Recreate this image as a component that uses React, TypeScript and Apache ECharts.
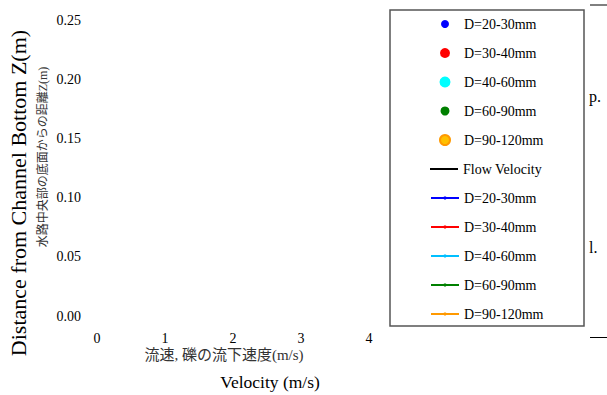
import React, { useEffect, useRef } from "react";
import * as echarts from "echarts";

const particleNames = ["D=20-30mm", "D=30-40mm", "D=40-60mm", "D=60-90mm", "D=90-120mm"];
const particleColors = ["#0000ff", "#ff0000", "#00ffff", "#008000", "#ffc000"];
const particleBorders = ["#0000ff", "#ff0000", "#00ffff", "#008000", "#ff9900"];
const particleSizes = [6, 8, 9, 7, 10];
const lineColors = ["#0000ff", "#ff0000", "#00bfff", "#008000", "#ff9900"];
const xTicks = [0, 1, 2, 3, 4];
const yTicks = [0, 0.05, 0.1, 0.15, 0.2, 0.25];
// The reference plot area is empty: no marks are drawn
const particleData: number[][][] = [[], [], [], [], []];
const flowVelocity: number[][] = [];
const profileData: number[][][] = [[], [], [], [], []];

const FONT = "'Liberation Serif', 'Times New Roman', serif";
const JFONT = "'Liberation Serif', 'Noto Sans CJK JP', serif";

export default function App() {
  const ref = useRef<HTMLDivElement>(null);
  useEffect(() => {
    if (!ref.current) return;
    const chart = echarts.init(ref.current, null, { renderer: "svg" });
    const series: any[] = [];
    particleNames.forEach((n, i) => {
      series.push({
        type: "scatter",
        name: n,
        data: particleData[i],
        symbol: "circle",
        symbolSize: particleSizes[i],
        itemStyle: { color: particleColors[i], borderColor: particleBorders[i], borderWidth: 1, opacity: 1 },
      });
    });
    series.push({
      type: "line",
      name: "Flow Velocity",
      data: flowVelocity,
      symbol: "none",
      lineStyle: { color: "#000", width: 2 },
      itemStyle: { color: "#000" },
    });
    particleNames.forEach((n, i) => {
      series.push({
        type: "line",
        name: "line:" + n,
        data: profileData[i],
        symbol: "circle",
        symbolSize: 3,
        lineStyle: { color: lineColors[i], width: 2 },
        itemStyle: { color: lineColors[i] },
      });
    });

    const legendNames = [...particleNames, "Flow Velocity", ...particleNames.map((n) => "line:" + n)];
    const legends = legendNames.map((n, i) => {
      const isDot = i < 5;
      const isFlow = i === 5;
      const h = isDot ? particleSizes[i] : isFlow ? 2 : 4;
      const cy = 24 + i * 29;
      const item: any = { name: n };
      if (isDot) item.icon = "circle";
      if (isFlow) item.icon = "rect";
      return {
        data: [item],
        left: isDot ? 444 - h / 2 : 430,
        top: cy - 7,
        orient: "vertical",
        align: "left",
        itemWidth: 28,
        itemHeight: h,
        padding: 0,
        itemGap: 0,
        selectedMode: false,
        formatter: (name: string) => name.replace("line:", ""),
        textStyle: { fontFamily: FONT, fontSize: 14, color: "#000" },
      };
    });

    chart.setOption({
      animation: false,
      grid: { left: 97, right: 238, top: 20, bottom: 79, containLabel: false },
      xAxis: {
        type: "value",
        min: 0,
        max: 4,
        interval: 1,
        axisLine: { show: false },
        axisTick: { show: false },
        splitLine: { show: false },
        axisLabel: { fontFamily: FONT, fontSize: 14, color: "#000", margin: 15 },
      },
      yAxis: {
        type: "value",
        min: 0,
        max: 0.25,
        interval: 0.05,
        axisLine: { show: false },
        axisTick: { show: false },
        splitLine: { show: false },
        axisLabel: {
          fontFamily: FONT,
          fontSize: 14,
          color: "#000",
          margin: 16,
          formatter: (v: number) => v.toFixed(2),
        },
      },
      legend: legends,
      series,
      graphic: [
        {
          type: "rect",
          shape: { x: 390, y: 10, width: 194, height: 316 },
          style: { fill: "none", stroke: "#555", lineWidth: 1.5 },
          silent: true,
        },
        {
          type: "text",
          x: 18,
          y: 193,
          rotation: Math.PI / 2,
          style: {
            text: "Distance from Channel Bottom Z(m)",
            fontFamily: FONT,
            fontSize: 22,
            fill: "#000",
            align: "center",
            verticalAlign: "middle",
          },
        },
        {
          type: "text",
          x: 43,
          y: 157,
          rotation: Math.PI / 2,
          style: {
            text: "水路中央部の底面からの距離Z(m)",
            fontFamily: JFONT,
            fontSize: 12,
            fill: "#333",
            align: "center",
            verticalAlign: "middle",
          },
        },
        {
          type: "text",
          x: 224,
          y: 355,
          style: {
            text: "流速, 礫の流下速度(m/s)",
            fontFamily: JFONT,
            fontSize: 15,
            fill: "#333",
            align: "center",
            verticalAlign: "middle",
          },
        },
        {
          type: "text",
          x: 270,
          y: 382,
          style: {
            text: "Velocity (m/s)",
            fontFamily: FONT,
            fontSize: 17.5,
            fill: "#000",
            align: "center",
            verticalAlign: "middle",
          },
        },
        {
          type: "text",
          x: 589,
          y: 96,
          style: { text: "p.", fontFamily: FONT, fontSize: 16, fill: "#000", verticalAlign: "middle" },
        },
        {
          type: "text",
          x: 589,
          y: 247,
          style: { text: "l.", fontFamily: FONT, fontSize: 16, fill: "#000", verticalAlign: "middle" },
        },
        {
          type: "line",
          shape: { x1: 590, y1: 5, x2: 607, y2: 5 },
          style: { stroke: "#000", lineWidth: 1 },
        },
        {
          type: "line",
          shape: { x1: 590, y1: 337.5, x2: 607, y2: 337.5 },
          style: { stroke: "#000", lineWidth: 1 },
        },
      ],
    });
    return () => chart.dispose();
  }, []);
  return <div ref={ref} style={{ width: 607, height: 395, position: "absolute", left: 0, top: 0 }} />;
}
